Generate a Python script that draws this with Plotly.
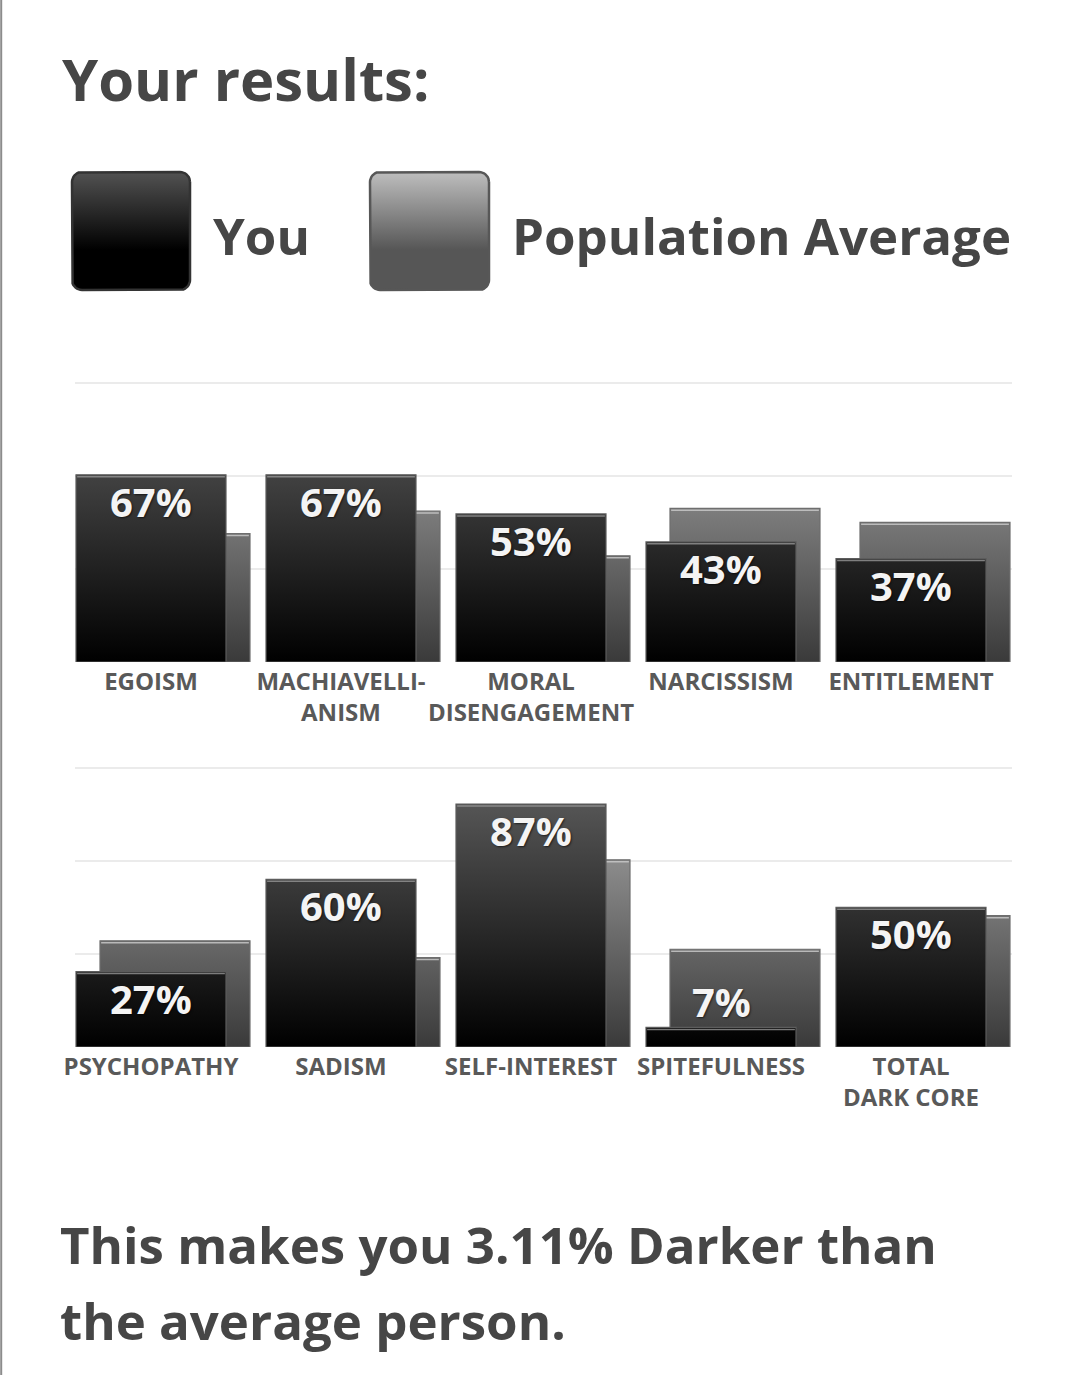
import numpy as np
import plotly.graph_objects as go

# ---------------- data ----------------
categories_top = ["EGOISM", "MACHIAVELLI-<br>ANISM", "MORAL<br>DISENGAGEMENT", "NARCISSISM", "ENTITLEMENT"]
you_top = [67, 67, 53, 43, 37]
avg_top = [46, 54, 38, 55, 50]

categories_bottom = ["PSYCHOPATHY", "SADISM", "SELF-INTEREST", "SPITEFULNESS", "TOTAL<br>DARK CORE"]
you_bottom = [27, 60, 87, 7, 50]
avg_bottom = [38, 32, 67, 35, 47]

series_names = ["You", "Population Average"]
grid_values = [0, 100 / 3, 200 / 3, 100]

title_text = "Your results:"
summary_lines = ["This makes you 3.11% Darker than", "the average person."]

# ---------------- style ----------------
W, H = 1080, 1375
FONT = "Open Sans"
TEXT_COL = "#464646"
LABEL_COL = "#595959"
BAR_W = 150 / 190
AVG_OFF = 24 / 190
X_RANGE = [-0.4, (1012 - 151) / 190]
X_DOM = [75 / W, 1012 / W]
Y_RANGE = [0, 100.6]


def py(px):
    return 1 - px / H


PANEL_DOMS = [[py(662), py(381)], [py(1047), py(766)]]

YOU_GRAD = dict(type="vertical", start=0, stop=100,
                colorscale=[[0, "#000000"], [1, "#626262"]])
AVG_GRAD = dict(type="vertical", start=0, stop=100,
                colorscale=[[0, "#3a3a3a"], [1, "#b4b4b4"]])


def bar_polys(values, offset):
    xs, ys = [], []
    for i, v in enumerate(values):
        c = i + offset
        l, r = c - BAR_W / 2, c + BAR_W / 2
        xs += [l, l, r, r, l, None]
        ys += [0, v, v, 0, 0, None]
    return xs, ys


def top_lines(values, offset, inset):
    xs, ys = [], []
    for i, v in enumerate(values):
        c = i + offset
        l, r = c - BAR_W / 2 + 0.006, c + BAR_W / 2 - 0.006
        xs += [l, r, None]
        ys += [v - inset, v - inset, None]
    return xs, ys


fig = go.Figure()

panels = [(categories_top, you_top, avg_top, "x", "y"),
          (categories_bottom, you_bottom, avg_bottom, "x2", "y2")]

for cats, you, avg, xa, ya in panels:
    # population average (behind)
    xs, ys = bar_polys(avg, AVG_OFF)
    fig.add_trace(go.Scatter(x=xs, y=ys, mode="lines", fill="toself",
                             fillgradient=AVG_GRAD,
                             line=dict(color="#6e6e6e", width=1.2),
                             name=series_names[1], showlegend=False,
                             hoverinfo="skip", xaxis=xa, yaxis=ya))
    xs, ys = top_lines(avg, AVG_OFF, 0.7)
    fig.add_trace(go.Scatter(x=xs, y=ys, mode="lines",
                             line=dict(color="rgba(200,200,200,0.85)", width=1.5),
                             showlegend=False, hoverinfo="skip", xaxis=xa, yaxis=ya))
    # you (front)
    xs, ys = bar_polys(you, 0)
    fig.add_trace(go.Scatter(x=xs, y=ys, mode="lines", fill="toself",
                             fillgradient=YOU_GRAD,
                             line=dict(color="#5c5c5c", width=1.2),
                             name=series_names[0], showlegend=False,
                             hoverinfo="skip", xaxis=xa, yaxis=ya))
    xs, ys = top_lines(you, 0, 0.7)
    fig.add_trace(go.Scatter(x=xs, y=ys, mode="lines",
                             line=dict(color="rgba(150,150,150,0.8)", width=1.5),
                             showlegend=False, hoverinfo="skip", xaxis=xa, yaxis=ya))

    for i, v in enumerate(you):
        inside = v >= 15
        fig.add_annotation(x=i, y=v, xref=xa, yref=ya, text=f"{v}%",
                           showarrow=False,
                           yanchor="top" if inside else "bottom",
                           yshift=3 if inside else -4,
                           font=dict(family=FONT, size=40, weight=700, color="#f4f4f4",
                                     shadow="1px 1px 2px rgba(0,0,0,0.6)"))


# ---------------- legend swatches (hidden helper axis in pixel units) ----------------
def rounded_rect(x0, x1, y0, y1, r, n=10):
    xs, ys = [], []
    corners = [(x1 - r, y1 - r, 0), (x0 + r, y1 - r, 90), (x0 + r, y0 + r, 180), (x1 - r, y0 + r, 270)]
    for cx, cy, a0 in corners:
        for t in np.linspace(np.radians(a0), np.radians(a0 + 90), n):
            xs.append(cx + r * np.cos(t))
            ys.append(cy + r * np.sin(t))
    xs.append(xs[0])
    ys.append(ys[0])
    return xs, ys


sw = [
    dict(x0=72, x1=190, y0=-290, y1=-172, border="#333333",
         cs=[[0, "#000000"], [0.34, "#000000"], [1, "#525252"]]),
    dict(x0=370, x1=489, y0=-290, y1=-172, border="#575757",
         cs=[[0, "#565656"], [0.34, "#565656"], [1, "#bebebe"]]),
]
for s, nm in zip(sw, series_names):
    xs, ys = rounded_rect(s["x0"], s["x1"], s["y0"], s["y1"], 10)
    fig.add_trace(go.Scatter(x=xs, y=ys, mode="lines", fill="toself",
                             fillgradient=dict(type="vertical", start=s["y0"], stop=s["y1"],
                                               colorscale=s["cs"]),
                             line=dict(color=s["border"], width=2.5),
                             name=nm, showlegend=False, hoverinfo="skip",
                             xaxis="x3", yaxis="y3"))

# ---------------- layout ----------------
axis_font = dict(family=FONT, size=24, weight=700, color=LABEL_COL)
layout_axes = {}
for k, (cats, _, _, xa, ya) in enumerate(panels):
    xname = "xaxis" if k == 0 else "xaxis2"
    yname = "yaxis" if k == 0 else "yaxis2"
    layout_axes[xname] = dict(domain=X_DOM, range=X_RANGE, anchor=ya,
                              tickvals=list(range(len(cats))), ticktext=cats,
                              tickfont=axis_font, ticks="", tickangle=0,
                              automargin=False, showgrid=False,
                              zeroline=False, showline=False, fixedrange=True,
                              ticklabelstandoff=3)
    layout_axes[yname] = dict(domain=PANEL_DOMS[k], range=Y_RANGE, anchor=xa,
                              tickvals=grid_values, showticklabels=False,
                              automargin=False,
                              gridcolor="#ebebeb", gridwidth=2, zeroline=False,
                              showline=False, fixedrange=True)

layout_axes["xaxis3"] = dict(domain=[0, 1], range=[0, W], visible=False, fixedrange=True,
                             anchor="y3", automargin=False)
layout_axes["yaxis3"] = dict(domain=[py(300), py(160)], range=[-300, -160], visible=False,
                             fixedrange=True, anchor="x3", automargin=False)

fig.update_layout(
    width=W, height=H,
    margin=dict(l=0, r=0, t=0, b=0, pad=0),
    paper_bgcolor="white", plot_bgcolor="rgba(0,0,0,0)",
    showlegend=False,
    **layout_axes,
)

big = dict(family=FONT, size=51, weight=700, color=TEXT_COL)
fig.add_annotation(x=60 / W, y=py(79), xref="paper", yref="paper", text=title_text,
                   showarrow=False, xanchor="left", yanchor="middle",
                   font=dict(family=FONT, size=58, weight=700, color=TEXT_COL))
fig.add_annotation(x=211 / W, y=py(235), xref="paper", yref="paper", text=series_names[0],
                   showarrow=False, xanchor="left", yanchor="middle", font=big)
fig.add_annotation(x=510 / W, y=py(235), xref="paper", yref="paper", text=series_names[1],
                   showarrow=False, xanchor="left", yanchor="middle", font=big)
for line, ypx in zip(summary_lines, [1244, 1320]):
    fig.add_annotation(x=58 / W, y=py(ypx), xref="paper", yref="paper", text=line,
                       showarrow=False, xanchor="left", yanchor="middle", font=big)

fig.add_shape(type="line", xref="paper", yref="paper", x0=1.2 / W, x1=1.2 / W, y0=0, y1=1,
              line=dict(color="#8c8c8c", width=2))

fig.write_html("out.html", config=dict(displayModeBar=False),
               post_script="document.body.style.margin='0';document.body.style.overflow='hidden';")
